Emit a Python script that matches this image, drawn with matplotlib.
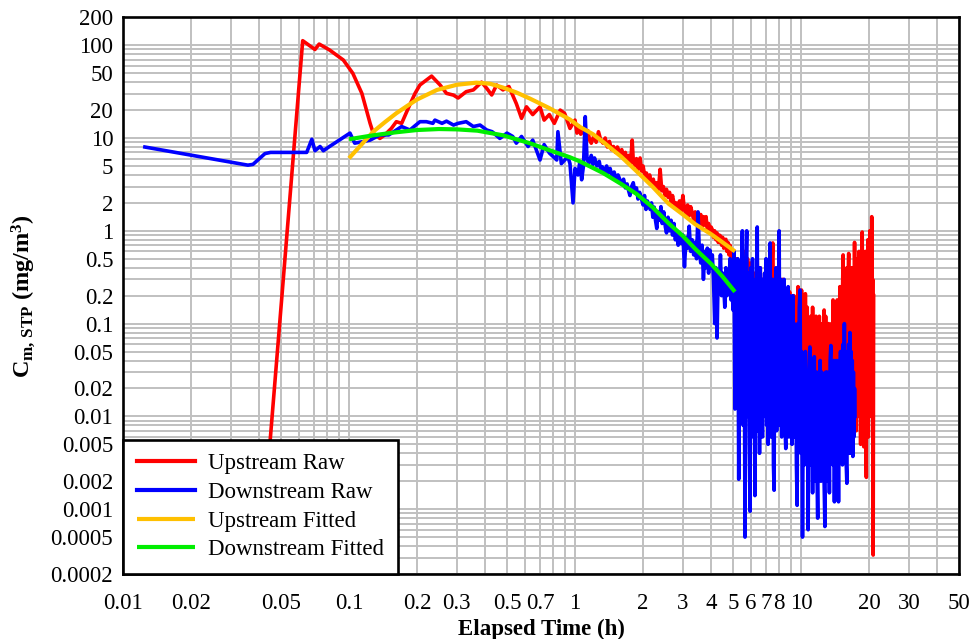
import matplotlib
matplotlib.use("Agg")
import matplotlib.pyplot as plt
from matplotlib.ticker import FixedLocator, FixedFormatter, LogLocator, NullFormatter

plt.rcParams['font.family'] = ['Liberation Serif', 'DejaVu Serif']
plt.rcParams['mathtext.fontset'] = 'custom'
plt.rcParams['mathtext.rm'] = 'Liberation Serif'
plt.rcParams['mathtext.it'] = 'Liberation Serif:italic'
plt.rcParams['mathtext.bf'] = 'Liberation Serif:bold'

# ---- Upstream raw concentration (h, mg/m3) ----
up_raw_t = [0.042, 0.0624, 0.0707, 0.0738, 0.082, 0.0944, 0.104, 0.114, 0.124, 0.128,
            0.137, 0.144, 0.154, 0.162, 0.171, 0.183, 0.196, 0.206, 0.232, 0.253,
            0.27, 0.29, 0.304, 0.33, 0.355, 0.386, 0.407, 0.428, 0.45, 0.48,
            0.51, 0.55, 0.58, 0.61, 0.65, 0.70, 0.73, 0.77, 0.81, 0.86,
            0.90, 0.95,
            1.00, 1.02, 1.04, 1.06, 1.08, 1.11, 1.14, 1.16, 1.18, 1.21,
            1.24, 1.27, 1.30, 1.33, 1.36, 1.39, 1.42, 1.45, 1.48, 1.51,
            1.54, 1.58, 1.61, 1.64, 1.67, 1.70, 1.73, 1.76, 1.79, 1.81,
            1.84, 1.87, 1.90, 1.94, 1.97, 2.00, 2.04, 2.07, 2.10, 2.14,
            2.18, 2.22, 2.26, 2.30, 2.34, 2.38, 2.42, 2.46, 2.50, 2.54,
            2.58, 2.62, 2.66, 2.70, 2.75, 2.80, 2.85, 2.90, 2.95, 3.00,
            3.05, 3.10, 3.15, 3.20, 3.25, 3.30, 3.35, 3.40, 3.45, 3.50,
            3.55, 3.60, 3.65, 3.70, 3.75, 3.80, 3.85, 3.90, 3.95, 4.00,
            4.05, 4.10, 4.15, 4.20, 4.25, 4.30, 4.35, 4.40, 4.45, 4.50,
            4.55, 4.60, 4.65, 4.70, 4.75, 4.80, 4.85, 4.90, 4.95,
            5.0, 5.05, 5.1, 5.2, 5.3, 5.4, 5.5, 5.6, 5.7, 5.8,
            5.9, 6.0, 6.1, 6.2, 6.3, 6.4, 6.5, 6.6, 6.7, 6.8,
            6.9, 7.0, 7.1, 7.2, 7.3, 7.4, 7.5, 7.6, 7.7, 7.8,
            7.9, 8.0, 8.1, 8.2, 8.3, 8.4, 8.5, 8.6, 8.7, 8.8,
            8.9, 9.0, 9.1, 9.2, 9.3, 9.4, 9.5, 9.6, 9.7, 9.8,
            9.9, 9.97,
            10.05, 10.15, 10.25, 10.35, 10.45, 10.55, 10.65, 10.75, 10.85, 10.95,
            11.05, 11.15, 11.25, 11.35, 11.45, 11.55, 11.65, 11.75, 11.85, 11.95,
            12.05, 12.15, 12.25, 12.35, 12.45, 12.55, 12.65, 12.75, 12.85, 12.95,
            13.05, 13.15, 13.25, 13.35, 13.45, 13.55, 13.65, 13.75, 13.85, 13.95,
            14.05, 14.15, 14.25, 14.35, 14.45, 14.55, 14.65, 14.75, 14.85, 14.95,
            15.05, 15.15, 15.25, 15.35, 15.45, 15.55, 15.65, 15.75, 15.85, 15.95,
            16.05, 16.15, 16.25, 16.35, 16.45, 16.55, 16.65, 16.75, 16.85, 16.95,
            17.05, 17.15, 17.25, 17.35, 17.45, 17.55, 17.65, 17.75, 17.85, 17.95,
            18.05, 18.15, 18.25, 18.35, 18.45, 18.55, 18.65, 18.75, 18.85, 18.95,
            19.05, 19.15, 19.25, 19.35, 19.45, 19.55, 19.65, 19.75, 19.85, 19.95,
            20.05, 20.15, 20.25, 20.35, 20.45, 20.55, 20.65, 20.75, 20.85, 20.95]
up_raw_c = [0.0008, 112, 90, 103, 89, 69.3, 49.8, 30.3, 14.4, 11.3,
            9.9, 10.8, 12.7, 15.0, 14.4, 21.0, 30.3, 37.3, 46.5, 37.3,
            30.3, 29.0, 27.0, 31.6, 33.0, 40.0, 34.3, 29.1, 37.3, 33.0,
            35.9, 23.5, 16.3, 21.7, 17.9, 21.7, 15.6, 17.9, 14.4, 20.0,
            18.4, 12.7,
            15.6, 11.3, 13.5, 11.0, 12.5, 10.4, 12.0, 9.5, 8.8, 10.5,
            9.0, 11.7, 9.5, 8.8, 10.0, 8.0, 9.2, 7.5, 8.1, 7.0,
            8.0, 6.9, 7.5, 6.0, 7.0, 5.5, 6.5, 5.2, 9.5, 5.8,
            5.0, 6.0, 4.6, 6.1, 4.4, 5.0, 3.8, 4.2, 3.5, 4.0,
            3.1, 3.6, 2.9, 3.3, 2.8, 4.6, 2.7, 3.0, 2.4, 2.8,
            2.3, 2.6, 2.0, 2.4, 1.9, 2.0, 1.7, 2.1, 1.6, 2.4,
            1.7, 1.5, 1.9, 1.45, 1.82, 1.55, 1.3, 1.6, 1.25, 1.42,
            1.2, 1.5, 1.1, 1.42, 1.15, 1.42, 1.0, 1.2, 0.95, 1.1,
            1.03, 0.85, 1.0, 0.8, 0.95, 0.75, 0.9, 0.88, 0.7, 0.85,
            0.65, 0.8, 0.81, 0.6, 0.75, 0.55, 0.7, 0.55, 0.4,
            0.3, 0.6, 0.1, 0.5, 0.05, 0.45, 0.08, 0.6, 0.1, 0.5,
            0.05, 0.45, 0.1, 0.35, 0.06, 0.5, 0.08, 0.4, 0.05, 0.3,
            0.04, 0.35, 0.08, 0.2, 0.05, 0.3, 0.74, 0.06, 0.3, 0.1,
            0.27, 0.05, 0.25, 0.04, 0.3, 0.06, 0.2, 0.03, 0.18, 0.05,
            0.22, 0.04, 0.15, 0.03, 0.2, 0.05, 0.18, 0.02, 0.25, 0.04,
            0.2, 0.03,
            0.23, 0.04, 0.15, 0.03, 0.21, 0.05, 0.15, 0.02, 0.1, 0.04,
            0.12, 0.02, 0.15, 0.03, 0.1, 0.04, 0.12, 0.015, 0.1, 0.03,
            0.12, 0.02, 0.09, 0.04, 0.1, 0.015, 0.14, 0.03, 0.12, 0.02,
            0.08, 0.03, 0.1, 0.015, 0.08, 0.03, 0.1, 0.02, 0.18, 0.03,
            0.15, 0.02, 0.12, 0.04, 0.18, 0.02, 0.1, 0.03, 0.25, 0.02,
            0.15, 0.04, 0.2, 0.55, 0.02, 0.3, 0.05, 0.2, 0.015, 0.4,
            0.03, 0.25, 0.57, 0.02, 0.3, 0.05, 0.4, 0.01, 0.3, 0.03,
            0.4, 0.008, 0.75, 0.02, 0.4, 0.007, 0.5, 0.03, 0.3, 0.01,
            0.6, 0.02, 0.3, 0.005, 0.5, 0.03, 0.97, 0.01, 0.4, 0.0047,
            0.3, 0.02, 0.6, 0.01, 0.0022, 0.4, 0.03, 0.8, 0.006, 0.3,
            0.02, 1.0, 0.01, 0.5, 0.03, 1.42, 0.02, 0.3, 0.00032, 0.2]

# ---- Downstream raw concentration (h, mg/m3) ----
down_raw_t = [0.0125, 0.0357, 0.0376, 0.0425, 0.045, 0.065, 0.0685, 0.0707, 0.0745, 0.077,
              0.082, 0.101, 0.106, 0.114, 0.124, 0.137, 0.15, 0.171, 0.186, 0.206,
              0.22, 0.235, 0.24, 0.258, 0.27, 0.29, 0.304, 0.33, 0.355, 0.38,
              0.407, 0.43, 0.465, 0.50, 0.53, 0.55, 0.58, 0.62, 0.65, 0.70,
              0.73, 0.77, 0.83, 0.84, 0.87, 0.93, 0.95, 0.98,
              1.00, 1.03, 1.05, 1.07, 1.09, 1.11, 1.13, 1.15, 1.18, 1.20,
              1.22, 1.25, 1.28, 1.30, 1.32, 1.35, 1.38, 1.40, 1.43, 1.46,
              1.49, 1.52, 1.55, 1.58, 1.61, 1.64, 1.67, 1.70, 1.72, 1.75,
              1.78, 1.81, 1.84, 1.87, 1.90, 1.93, 1.96, 2.00, 2.03, 2.06,
              2.09, 2.12, 2.15, 2.18, 2.21, 2.24, 2.27, 2.30, 2.33, 2.36,
              2.40, 2.43, 2.47, 2.51, 2.54, 2.58, 2.62, 2.66, 2.70, 2.74,
              2.78, 2.82, 2.86, 2.90, 2.95, 3.00, 3.05, 3.10, 3.15, 3.20,
              3.25, 3.30, 3.35, 3.40, 3.45, 3.50, 3.55, 3.60, 3.65, 3.70,
              3.75, 3.80, 3.85, 3.90, 3.95, 4.00, 4.05, 4.10, 4.15, 4.20,
              4.25, 4.30, 4.35, 4.40, 4.45, 4.50, 4.55, 4.60, 4.65, 4.70,
              4.75, 4.80, 4.85, 4.90, 4.95,
              5.00, 5.05, 5.10, 5.15, 5.20, 5.25, 5.30, 5.35, 5.40, 5.45,
              5.50, 5.55, 5.60, 5.65, 5.70, 5.75, 5.80, 5.85, 5.90, 5.95,
              6.00, 6.05, 6.10, 6.15, 6.20, 6.25, 6.30, 6.35, 6.40, 6.45,
              6.50, 6.55, 6.60, 6.65, 6.70, 6.75, 6.80, 6.85, 6.90, 6.95,
              7.00, 7.05, 7.10, 7.15, 7.20, 7.25, 7.30, 7.35, 7.40, 7.45,
              7.50, 7.55, 7.60, 7.65, 7.70, 7.75, 7.80, 7.85, 7.90, 7.95,
              8.00, 8.07, 8.14, 8.21, 8.28, 8.35, 8.42, 8.49, 8.56, 8.63,
              8.70, 8.77, 8.84, 8.91, 8.98, 9.05, 9.12, 9.19, 9.26, 9.33,
              9.40, 9.47, 9.54, 9.61, 9.68, 9.75, 9.82, 9.90, 9.98,
              10.05, 10.15, 10.25, 10.35, 10.45, 10.55, 10.65, 10.75, 10.85, 10.95,
              11.05, 11.15, 11.25, 11.35, 11.45, 11.55, 11.65, 11.75, 11.85, 11.95,
              12.05, 12.15, 12.25, 12.35, 12.45, 12.55, 12.65, 12.75, 12.85, 12.95,
              13.05, 13.15, 13.25, 13.35, 13.45, 13.55, 13.65, 13.75, 13.85, 13.95,
              14.05, 14.15, 14.25, 14.35, 14.45, 14.55, 14.65, 14.75, 14.85, 14.95,
              15.05, 15.15, 15.25, 15.35, 15.45, 15.55, 15.65, 15.75, 15.85, 15.95,
              16.05, 16.15, 16.25, 16.35, 16.45, 16.55, 16.65, 16.75, 16.85, 16.95,
              17.05, 17.15, 17.25, 17.32]
down_raw_c = [8.0, 5.1, 5.2, 6.8, 7.0, 7.0, 9.7, 7.3, 8.1, 7.3,
              8.1, 11.3, 8.8, 9.1, 9.5, 10.8, 10.8, 13.3, 12.2, 15.0,
              15.0, 14.4, 15.6, 14.4, 15.2, 13.8, 14.4, 15.0, 13.3, 13.8,
              12.2, 11.7, 9.9, 11.3, 10.4, 8.8, 10.4, 8.1, 9.5, 5.8,
              8.5, 6.9, 5.8, 11.7, 5.3, 6.3, 5.3, 2.0,
              4.7, 4.0, 5.5, 3.55, 5.0, 17.0, 6.0, 5.3, 6.5, 5.2,
              6.1, 5.0, 5.6, 4.5, 4.9, 4.3, 5.0, 4.2, 4.7, 3.8,
              4.3, 3.6, 4.0, 3.55, 3.2, 3.6, 2.9, 3.2, 2.8, 2.4,
              3.0, 3.3, 2.6, 2.9, 2.2, 2.6, 2.3, 1.9, 2.4, 1.7,
              2.1, 1.9, 1.7, 2.0, 1.4, 1.8, 1.3, 1.06, 1.6, 1.3,
              1.82, 1.2, 1.6, 1.1, 0.95, 1.4, 1.0, 1.3, 0.9, 1.2,
              0.8, 1.0, 0.7, 0.95, 0.73, 0.9, 0.41, 0.85, 0.65, 1.12,
              0.6, 0.8, 0.55, 0.75, 0.5, 1.6, 0.6, 0.45, 0.7, 0.3,
              0.6, 0.4, 0.65, 0.35, 0.62, 0.4, 0.55, 0.3, 0.10, 0.4,
              0.07, 0.35, 0.25, 0.55, 0.2, 0.35, 0.25, 0.15, 0.4, 0.2,
              0.37, 0.25, 0.5, 0.18, 0.3,
              0.14, 0.6, 0.012, 0.35, 0.02, 0.5, 0.0021, 0.25, 0.01, 0.3,
              1.0, 0.008, 0.3, 0.0005, 0.4, 1.0, 0.01, 0.35, 0.005, 0.00095,
              0.4, 0.008, 0.5, 0.006, 0.2, 0.0014, 0.3, 0.01, 1.1, 0.007,
              0.25, 0.004, 0.4, 0.012, 0.3, 0.006, 0.2, 0.01, 0.35, 0.011,
              0.5, 0.008, 0.3, 0.005, 0.2, 0.01, 0.74, 0.006, 0.25, 0.009,
              0.3, 0.003, 0.0016, 0.2, 0.01, 0.4, 0.007, 0.3, 0.012, 0.2,
              1.0, 0.008, 0.3, 0.006, 0.2, 0.012, 0.3, 0.008, 0.0045, 0.15,
              0.01, 0.25, 0.006, 0.2, 0.012, 0.12, 0.005, 0.2, 0.008, 0.1,
              0.006, 0.08, 0.003, 0.0011, 0.1, 0.005, 0.15, 0.23, 0.004,
              0.05, 0.0005, 0.04, 0.003, 0.05, 0.004, 0.03, 0.0006, 0.03, 0.056,
              0.003, 0.035, 0.0015, 0.03, 0.044, 0.002, 0.03, 0.003, 0.0008, 0.03,
              0.003, 0.04, 0.002, 0.03, 0.003, 0.025, 0.002, 0.00065, 0.03, 0.003,
              0.03, 0.002, 0.025, 0.0015, 0.04, 0.058, 0.004, 0.03, 0.003, 0.04,
              0.0012, 0.03, 0.004, 0.04, 0.003, 0.03, 0.0012, 0.04, 0.004, 0.05,
              0.004, 0.04, 0.003, 0.06, 0.004, 0.1, 0.005, 0.04, 0.003, 0.0019,
              0.05, 0.005, 0.06, 0.004, 0.08, 0.006, 0.05, 0.004, 0.04, 0.0037,
              0.03, 0.006, 0.02, 0.01]

# ---- Fitted curves ----
up_fit_t = [0.1, 0.115, 0.128, 0.145, 0.162, 0.18, 0.2, 0.245, 0.3, 0.366,
            0.42, 0.48, 0.55, 0.63, 0.77, 0.95, 1.05, 1.2, 1.33, 1.6,
            1.87, 2.2, 2.6, 3.0, 3.4, 4.0, 4.5, 5.1]
up_fit_c = [6.05, 8.8, 11.7, 15.0, 18.5, 22.0, 26.0, 33.0, 37.5, 39.5,
            38.5, 35.0, 31.0, 26.7, 21.0, 15.8, 13.2, 11.0, 9.1, 6.3,
            4.4, 3.0, 1.95, 1.5, 1.18, 0.92, 0.75, 0.6]

down_fit_t = [0.1, 0.128, 0.16, 0.2, 0.25, 0.3, 0.37, 0.48, 0.63, 0.77,
              0.95, 1.05, 1.33, 1.6, 1.87, 2.2, 2.6, 3.0, 3.4, 4.0,
              4.5, 5.1]
down_fit_c = [9.7, 10.7, 11.5, 12.2, 12.5, 12.4, 12.0, 10.7, 8.8, 7.4,
              6.2, 5.6, 4.2, 3.2, 2.5, 1.8, 1.2, 0.88, 0.64, 0.44,
              0.32, 0.22]

x_ticks = [0.01, 0.02, 0.05, 0.1, 0.2, 0.3, 0.5, 0.7, 1, 2, 3, 4, 5, 6, 7, 8, 10, 20, 30, 50]
x_tick_labels = ['0.01', '0.02', '0.05', '0.1', '0.2', '0.3', '0.5', '0.7', '1', '2',
                 '3', '4', '5', '6', '7', '8', '10', '20', '30', '50']
y_ticks = [0.0002, 0.0005, 0.001, 0.002, 0.005, 0.01, 0.02, 0.05, 0.1, 0.2,
           0.5, 1, 2, 5, 10, 20, 50, 100, 200]
y_tick_labels = ['0.0002', '0.0005', '0.001', '0.002', '0.005', '0.01', '0.02', '0.05',
                 '0.1', '0.2', '0.5', '1', '2', '5', '10', '20', '50', '100', '200']

fig = plt.figure(figsize=(9.69, 6.39), dpi=100)
ax = fig.add_axes([0.1269, 0.1017, 0.8628, 0.8712])

ax.plot(up_raw_t, up_raw_c, color='#FF0000', lw=2.6, label='Upstream Raw', solid_joinstyle='round')
ax.plot(down_raw_t, down_raw_c, color='#0000FF', lw=2.6, label='Downstream Raw', solid_joinstyle='round')
ax.plot(up_fit_t, up_fit_c, color='#FFC000', lw=3.0, label='Upstream Fitted', solid_capstyle='butt')
ax.plot(down_fit_t, down_fit_c, color='#00EE00', lw=3.0, label='Downstream Fitted', solid_capstyle='butt')

ax.set_xscale('log')
ax.set_yscale('log')
ax.set_xlim(0.01, 50)
ax.set_ylim(0.0002, 200)

ax.xaxis.set_major_locator(FixedLocator(x_ticks))
ax.xaxis.set_major_formatter(FixedFormatter(x_tick_labels))
ax.yaxis.set_major_locator(FixedLocator(y_ticks))
ax.yaxis.set_major_formatter(FixedFormatter(y_tick_labels))
ax.xaxis.set_minor_locator(LogLocator(base=10, subs=range(1, 10), numticks=50))
ax.yaxis.set_minor_locator(LogLocator(base=10, subs=range(1, 10), numticks=50))
ax.xaxis.set_minor_formatter(NullFormatter())
ax.yaxis.set_minor_formatter(NullFormatter())

ax.grid(True, which='both', color='#C0C0C0', lw=1.4)
ax.set_axisbelow(True)
ax.tick_params(which='both', length=0)
ax.tick_params(axis='x', labelsize=16.5, pad=14)
ax.tick_params(axis='y', labelsize=16.5, pad=7)

for s in ax.spines.values():
    s.set_linewidth(1.9)
    s.set_color('black')

ax.set_xlabel('Elapsed Time (h)', fontsize=16.5, fontweight='bold', va='center')
ax.xaxis.set_label_coords(0.5, -0.099)
ax.set_ylabel(r'$\mathbf{C}_{\mathbf{m,\,STP}}$ (mg/m$^{\mathbf{3}}$)', fontsize=17.5,
              fontweight='bold', va='center')
ax.yaxis.set_label_coords(-0.119, 0.5)

leg = ax.legend(loc='lower left', bbox_to_anchor=(0, 0), borderaxespad=0,
                fontsize=16.5, frameon=True, fancybox=False, framealpha=1,
                edgecolor='black', handlelength=2.55, handletextpad=0.55,
                labelspacing=0.33, borderpad=0.6)
leg.get_frame().set_linewidth(1.9)
for line in leg.get_lines():
    line.set_linewidth(3.0)

fig.savefig('out.png', dpi=100)
